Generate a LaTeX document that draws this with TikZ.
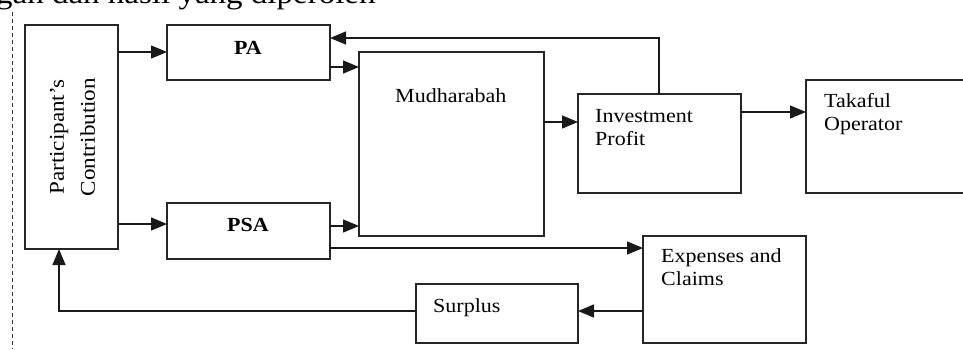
\documentclass[tikz,border=0pt]{standalone}
\usepackage{fontspec}
\setmainfont{Liberation Serif}[FakeStretch=1.1]
\usetikzlibrary{arrows.meta}

\tikzset{
  box/.style={draw=black!85, line width=1.9pt, inner sep=0pt, outer sep=0pt},
  flow/.style={draw=black!90, line width=1.4pt, -{Triangle[length=16pt,width=13pt]}},
  lbl/.style={anchor=base west, inner sep=0pt, font=\fontsize{20}{23}\selectfont},
  blbl/.style={anchor=base, inner sep=0pt, font=\fontsize{20}{23}\selectfont\bfseries},
}

\begin{document}
\begin{tikzpicture}[x=1pt,y=-1pt]
\useasboundingbox (0,0) rectangle (963,349);
\clip (0,0) rectangle (963,349);
\fill[white] (0,0) rectangle (963,349);

% last line of the running text above the figure
\node[anchor=base west, inner sep=0pt, font=\fontsize{30}{36}\selectfont] (runtext) at (-4,3.5) {gan dan hasil yang diperoleh};

% margin rule
\draw[black!80, line width=0.9pt, dash pattern=on 4pt off 3pt] (12,12) -- (12,349);

% boxes
\node[box, minimum width=93,  minimum height=224] (pc)  at (71.5,137)   {};
\node[box, minimum width=163, minimum height=55]  (pa)  at (248.5,52.5) {};
\node[box, minimum width=163, minimum height=56]  (psa) at (248.5,231)  {};
\node[box, minimum width=185, minimum height=184] (mud) at (451.5,144)  {};
\node[box, minimum width=163, minimum height=99]  (ip)  at (659.5,143.5){};
\node[box, minimum width=164, minimum height=113] (to)  at (888,136.5)  {};
\node[box, minimum width=163, minimum height=107] (exp) at (724.5,289.5){};
\node[box, minimum width=162, minimum height=59]  (sur) at (497,313.5)  {};

% labels
\node[rotate=90, align=center, inner sep=0pt, font=\fontsize{21}{31}\selectfont] (pctext) at (72.5,137) {Participant's\\Contribution};
\node[blbl] (patext)  at (248,54)  {PA};
\node[blbl] (psatext) at (248,231) {PSA};
\node[lbl] (mudtext)  at (395,102.5) {Mudharabah};
\node[lbl] (iptexta)  at (595,122)   {Investment};
\node[lbl] (iptextb)  at (595,145)   {Profit};
\node[lbl] (totexta)  at (824,107.5) {Takaful};
\node[lbl] (totextb)  at (824,130.5) {Operator};
\node[lbl] (exptexta) at (661,262.5) {Expenses and};
\node[lbl] (exptextb) at (661,285.5) {Claims};
\node[lbl] (surtext)  at (433,312.5) {Surplus};

% flows
\draw[flow] (pc.east |- 0,52)   -- (pa.west |- 0,52);
\draw[flow] (pc.east |- 0,224)  -- (psa.west |- 0,224);
\draw[flow] (pa.east |- 0,67)   -- (mud.west |- 0,67);
\draw[flow] (psa.east |- 0,226) -- (mud.west |- 0,226);
\draw[flow] (psa.east |- 0,248) -- (exp.west |- 0,248);
\draw[flow] (mud.east |- 0,122) -- (ip.west |- 0,122);
\draw[flow] (ip.east |- 0,112)  -- (to.west |- 0,112);
\draw[flow] (ip.north -| 659,0) |- (pa.east |- 0,38);
\draw[flow] (exp.west |- 0,311) -- (sur.east |- 0,311);
\draw[flow] (sur.west |- 0,311) -| (pc.south -| 59,0);
\end{tikzpicture}
\end{document}
